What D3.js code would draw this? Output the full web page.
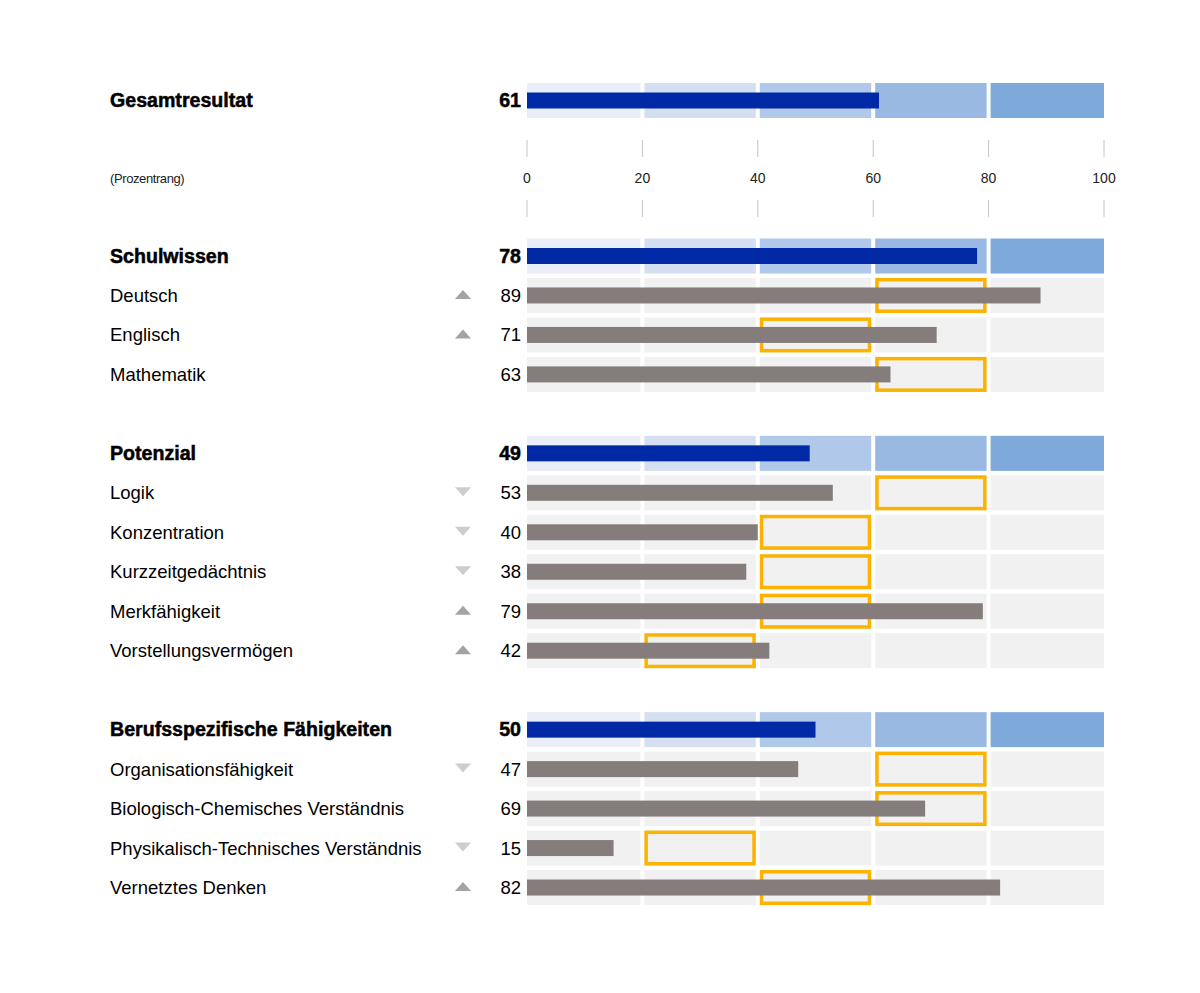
<!DOCTYPE html>
<html>
<head>
<meta charset="utf-8">
<script src="https://cdn.jsdelivr.net/npm/d3@7"></script>
<style>
  html, body { margin: 0; padding: 0; background: #ffffff; }
  svg { display: block; }
  text { font-family: "Liberation Sans", Arial, sans-serif; }
</style>
</head>
<body>
<svg id="chart" width="1200" height="993"></svg>
<script>
// ---------- data ----------
const overallLabel = "Gesamtresultat";
const overallScore = 61;
const unitLabel = "(Prozentrang)";
const tickValues = [0, 20, 40, 60, 80, 100];
const bandStarts = [0, 20, 40, 60, 80];

const groupNames = ["Schulwissen", "Potenzial", "Berufsspezifische Fähigkeiten"];
const groupScores = [78, 49, 50];

const itemNames = [
  "Deutsch", "Englisch", "Mathematik",
  "Logik", "Konzentration", "Kurzzeitgedächtnis", "Merkfähigkeit", "Vorstellungsvermögen",
  "Organisationsfähigkeit", "Biologisch-Chemisches Verständnis", "Physikalisch-Technisches Verständnis", "Vernetztes Denken"
];
const itemGroup = [0, 0, 0, 1, 1, 1, 1, 1, 2, 2, 2, 2];
const itemScores = [89, 71, 63, 53, 40, 38, 79, 42, 47, 69, 15, 82];
// lower bound of the expected (highlighted) range, each range spans 20 points
const itemRangeStart = [60, 40, 60, 60, 40, 40, 40, 20, 60, 60, 20, 40];
const itemTrend = ["up", "up", "", "down", "down", "down", "up", "up", "down", "", "down", "up"];

// ---------- style ----------
const bandColors = ["#e9eef8", "#d4dff2", "#b0c8ea", "#99b9e2", "#7eaadb"];
const greyBand = "#f1f1f1";
const blueBar = "#0029a6";
const greyBar = "#857d7b";
const boxColor = "#fbb300";
const upColor = "#a3a3a3";
const downColor = "#cdcdcd";

const svg = d3.select("#chart");
const x = d3.scaleLinear().domain([0, 100]).range([527, 1104]);

// row layout: one step per row, a blank row between groups
const rows = [];
groupNames.forEach((g, gi) => {
  rows.push({ type: "group", name: g, score: groupScores[gi] });
  itemNames.forEach((n, i) => {
    if (itemGroup[i] === gi) rows.push({ type: "item", name: n, score: itemScores[i], range: itemRangeStart[i], trend: itemTrend[i] });
  });
  if (gi < groupNames.length - 1) rows.push({ type: "blank" });
});
const y = d3.scaleLinear().domain([0, 1]).range([256, 295.47]);
rows.forEach((r, i) => r.cy = y(i));

const overall = { type: "group", name: overallLabel, score: overallScore, cy: 100.5 };
const allRows = [overall].concat(rows.filter(r => r.type !== "blank"));

const gap = 4;
function cellX0(a) { return a === 0 ? x(a) : x(a) + gap / 2; }
function cellX1(a) { return a + 20 === 100 ? x(100) : x(a + 20) - gap / 2; }
const bandTop = -17.5, bandH = 35, barH = 16;

// background cells
allRows.forEach(r => {
  const g = svg.append("g");
  g.selectAll("rect").data(bandStarts).join("rect")
    .attr("x", a => cellX0(a))
    .attr("width", a => cellX1(a) - cellX0(a))
    .attr("y", r.cy + bandTop)
    .attr("height", bandH)
    .attr("fill", (a, i) => r.type === "group" ? bandColors[i] : greyBand);

  if (r.type === "item") {
    const sw = 3.5;
    g.append("rect")
      .attr("x", cellX0(r.range) + sw / 2)
      .attr("width", cellX1(r.range) - cellX0(r.range) - sw)
      .attr("y", r.cy + bandTop + sw / 2)
      .attr("height", bandH - sw)
      .attr("fill", "none")
      .attr("stroke", boxColor)
      .attr("stroke-width", sw);
  }

  g.append("rect")
    .attr("x", x(0))
    .attr("width", x(r.score) - x(0))
    .attr("y", r.cy - barH / 2)
    .attr("height", barH)
    .attr("fill", r.type === "group" ? blueBar : greyBar);

  const isGroup = r.type === "group";
  g.append("text")
    .attr("x", 110)
    .attr("y", r.cy + 6.5)
    .attr("font-size", isGroup ? 19.6 : 18.5)
    .attr("font-weight", isGroup ? "bold" : "normal")
    .attr("stroke", isGroup ? "#000" : "none")
    .attr("stroke-width", isGroup ? 0.5 : 0)
    .attr("fill", "#000")
    .text(r.name);

  g.append("text")
    .attr("x", 521)
    .attr("y", r.cy + 6.5)
    .attr("text-anchor", "end")
    .attr("font-size", isGroup ? 19.6 : 18.5)
    .attr("font-weight", isGroup ? "bold" : "normal")
    .attr("stroke", isGroup ? "#000" : "none")
    .attr("stroke-width", isGroup ? 0.5 : 0)
    .attr("fill", "#000")
    .text(r.score);

  if (r.type === "item" && r.trend) {
    const tx = 463, ty = r.cy - 1, hw = 8, hh = 4.5;
    const pts = r.trend === "up"
      ? [[tx - hw, ty + hh], [tx + hw, ty + hh], [tx, ty - hh]]
      : [[tx - hw, ty - hh], [tx + hw, ty - hh], [tx, ty + hh]];
    g.append("path")
      .attr("d", d3.line()(pts) + "Z")
      .attr("fill", r.trend === "up" ? upColor : downColor);
  }
});

// axis
const axisG = svg.append("g");
axisG.selectAll("line.t1").data(tickValues).join("line")
  .attr("class", "t1")
  .attr("x1", d => x(d)).attr("x2", d => x(d))
  .attr("y1", 140).attr("y2", 157)
  .attr("stroke", "#c4c4c4").attr("stroke-width", 1);
axisG.selectAll("line.t2").data(tickValues).join("line")
  .attr("class", "t2")
  .attr("x1", d => x(d)).attr("x2", d => x(d))
  .attr("y1", 200).attr("y2", 217)
  .attr("stroke", "#c4c4c4").attr("stroke-width", 1);
axisG.selectAll("text").data(tickValues).join("text")
  .attr("x", d => x(d))
  .attr("y", 183)
  .attr("text-anchor", "middle")
  .attr("font-size", 14)
  .attr("fill", "#222")
  .text(d => d);

svg.append("text")
  .attr("x", 110).attr("y", 183)
  .attr("font-size", 13)
  .attr("letter-spacing", -0.4)
  .attr("fill", "#222")
  .text(unitLabel);
</script>
</body>
</html>
